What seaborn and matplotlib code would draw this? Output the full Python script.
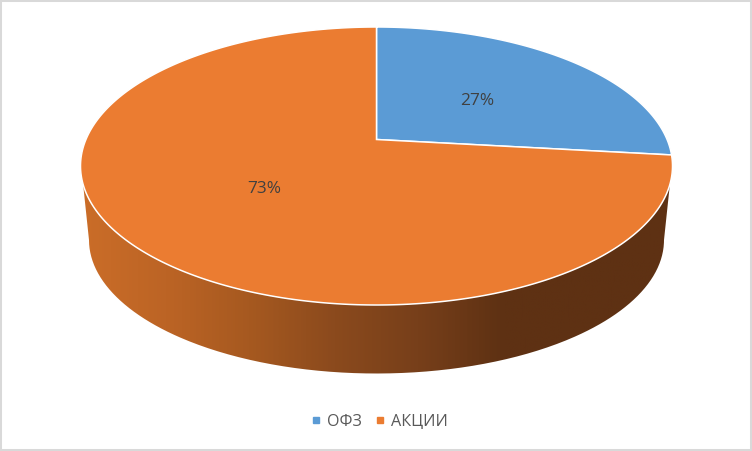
import numpy as np
import matplotlib
matplotlib.use("Agg")
import matplotlib.pyplot as plt
from matplotlib.lines import Line2D
from matplotlib.patches import PathPatch
from matplotlib.path import Path
import seaborn as sns

# ----------------- DATA -----------------
categories = ["ОФЗ", "АКЦИИ"]
shares = [26.8, 73.2]
slice_colors = ["#5B9BD5", "#EB7C31"]
wall_colors = ["#CB6D28", "#BC6425", "#A65920", "#8B4A1D", "#773F1A", "#5E3113", "#5E3113", "#5E3113"]

# ----------------- PIE GEOMETRY (pixels) -----------------
center_x = 376.5
rim_top, rim_bottom, apex_y = 27.0, 305.0, 139.5
half_width = 296.0
base_half_width, base_mid_y, base_bottom = 287.5, 240.0, 373.5
wall_start_y = 184.0

tilt = (rim_top + rim_bottom - 2 * apex_y) / (rim_bottom - rim_top)
depth = rim_top * (1 + tilt) - apex_y
spread = half_width * np.sqrt(1 - tilt ** 2)


def project(theta, r=1.0):
    # theta runs clockwise from the top of the disc
    w = 1 + tilt * r * np.cos(theta)
    return (center_x + spread * r * np.sin(theta) / w,
            (apex_y + depth * r * np.cos(theta)) / w)


sns.set_theme(style="white")
plt.rcParams["font.family"] = ["Open Sans", "DejaVu Sans"]

fig = plt.figure(figsize=(7.52, 4.51), dpi=100)
ax = fig.add_axes([0, 0, 1, 1])
ax.set_xticks([])
ax.set_yticks([])
for spine in ax.spines.values():
    spine.set_color("#D9D9D9")
    spine.set_linewidth(2.9)

# ----------------- SIDE WALL -----------------
t = np.linspace(0, 2 * np.pi, 1200)
rim_x, rim_y = project(t)
keep = rim_y > wall_start_y
rim_x, rim_y = rim_x[keep], rim_y[keep]
phi = np.linspace(np.pi, 0, 300)
base_x = center_x + base_half_width * np.cos(phi)
base_y = base_mid_y + (base_bottom - base_mid_y) * np.sin(phi)
wall_x = np.concatenate([rim_x, base_x, rim_x[:1]])
wall_y = np.concatenate([rim_y, base_y, rim_y[:1]])

wall_cmap = sns.blend_palette(wall_colors, as_cmap=True)
gradient = np.linspace(0, 1, 400).reshape(1, -1)
img = ax.imshow(gradient, cmap=wall_cmap, aspect="auto", zorder=1,
                extent=(80, 673, base_bottom + 2, 150))
img.set_clip_path(PathPatch(Path(np.column_stack([wall_x, wall_y])), transform=ax.transData))
ax.set_xlim(0, 752)
ax.set_ylim(451, 0)

# ----------------- TOP FACE -----------------
edges = np.cumsum([0] + shares) / sum(shares) * 2 * np.pi
for i, color in enumerate(slice_colors):
    a = np.linspace(edges[i], edges[i + 1], 400)
    x, y = project(a)
    x = np.concatenate([[center_x], x, [center_x]])
    y = np.concatenate([[apex_y], y, [apex_y]])
    ax.fill(x, y, facecolor=color, edgecolor="white", linewidth=1.1, zorder=2)

    mid = (edges[i] + edges[i + 1]) / 2
    lx, ly = project(mid, 0.49)
    ax.annotate(f"{shares[i]:.0f}%", (lx, ly), xytext=(0.8, -2), textcoords="offset points",
                ha="center", va="center", fontsize=12.4, color="#404040", zorder=3)

# ----------------- LEGEND -----------------
handles = [Line2D([], [], linestyle="none", marker="s", markersize=4.3,
                  color=c, label=n) for c, n in zip(slice_colors, categories)]
ax.legend(handles=handles, ncol=2, frameon=False, loc="center",
          bbox_to_anchor=(0.5015, 0.065), fontsize=11.6, labelcolor="#595959",
          handletextpad=0.05, columnspacing=0.55, handlelength=1.2)

fig.savefig("out.png", dpi=100)
